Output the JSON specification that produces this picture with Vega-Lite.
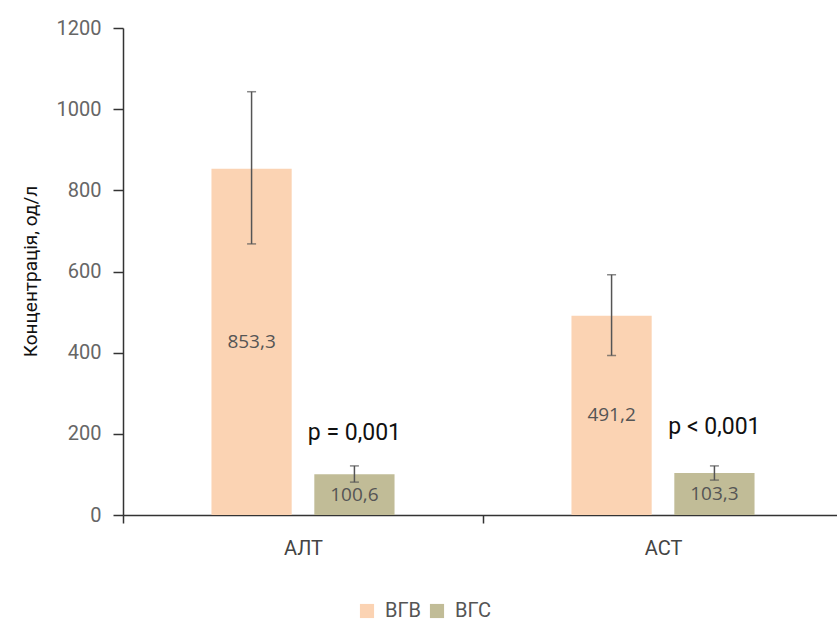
{
  "$schema": "https://vega.github.io/schema/vega-lite/v6.json",
  "width": 714,
  "height": 487,
  "autosize": "none",
  "padding": {"left": 123, "top": 28, "right": 0, "bottom": 111},
  "background": "white",
  "config": {
    "view": {"stroke": null},
    "font": "Roboto, sans-serif"
  },
  "datasets": {
    "bars": [
      {"test": "АЛТ", "group": "ВГВ", "value": 853.3, "lo": 668, "hi": 1043, "label": "853,3"},
      {"test": "АЛТ", "group": "ВГС", "value": 100.6, "lo": 81, "hi": 121, "label": "100,6"},
      {"test": "АСТ", "group": "ВГВ", "value": 491.2, "lo": 393, "hi": 592, "label": "491,2"},
      {"test": "АСТ", "group": "ВГС", "value": 103.3, "lo": 86, "hi": 121, "label": "103,3"}
    ],
    "pvals": [
      {"test": "АЛТ", "group": "ВГС", "y": 202, "text": "p = 0,001"},
      {"test": "АСТ", "group": "ВГС", "y": 217, "text": "p < 0,001"}
    ]
  },
  "data": {"name": "bars"},
  "encoding": {
    "x": {
      "field": "test", "type": "nominal", "sort": ["АЛТ", "АСТ"],
      "scale": {"paddingInner": 0, "paddingOuter": 0, "range": [0, 720]},
      "axis": {
        "title": null, "labelAngle": 0, "tickBand": "extent",
        "domainColor": "#333", "domainWidth": 1.5, "tickColor": "#333", "tickWidth": 1.5, "tickSize": 8,
        "labelFontSize": 20, "labelColor": "#444", "labelPadding": 15,
        "labelFont": "Roboto, sans-serif"
      }
    },
    "xOffset": {
      "field": "group", "type": "nominal", "sort": ["ВГВ", "ВГС"],
      "scale": {"paddingInner": 0.22, "paddingOuter": 0.86}
    }
  },
  "layer": [
    {
      "mark": {"type": "bar"},
      "encoding": {
        "y": {
          "field": "value", "type": "quantitative",
          "scale": {"domain": [0, 1200], "nice": false},
          "axis": {
            "title": "Концентрація, од/л", "values": [0, 200, 400, 600, 800, 1000, 1200], "format": "d",
            "grid": false, "domainColor": "#333", "domainWidth": 1.5, "tickColor": "#333", "tickWidth": 1.5,
            "tickSize": 10, "labelPadding": 12, "labelFontSize": 20, "labelColor": "#666",
            "labelFont": "Roboto, sans-serif",
            "titleFont": "Roboto, sans-serif", "titleFontSize": 19,
            "titleFontWeight": "normal", "titleColor": "#111",
            "titleX": -93, "titleY": 243, "titleAlign": "center", "titleBaseline": "middle", "titleAngle": -90
          }
        },
        "color": {
          "field": "group", "type": "nominal", "sort": ["ВГВ", "ВГС"],
          "scale": {"domain": ["ВГВ", "ВГС"], "range": ["#FBD3B3", "#C1BC97"]},
          "legend": {
            "title": null, "orient": "none", "direction": "horizontal", "legendX": 234, "legendY": 573,
            "symbolType": "square", "symbolSize": 200, "symbolStrokeWidth": 0, "labelFontSize": 20,
            "labelColor": "#555", "labelFont": "Roboto, sans-serif",
            "columnPadding": 5, "labelOffset": 8
          }
        }
      }
    },
    {
      "mark": {"type": "rule", "color": "#555", "strokeWidth": 1.5},
      "encoding": {"y": {"field": "lo", "type": "quantitative"}, "y2": {"field": "hi"}}
    },
    {
      "mark": {"type": "tick", "color": "#555", "thickness": 1.5, "size": 9},
      "encoding": {"y": {"field": "hi", "type": "quantitative"}}
    },
    {
      "mark": {"type": "tick", "color": "#555", "thickness": 1.5, "size": 9},
      "encoding": {"y": {"field": "lo", "type": "quantitative"}}
    },
    {
      "transform": [{"calculate": "datum.value / 2", "as": "mid"}],
      "mark": {"type": "text", "fontSize": 19, "color": "#555", "font": "Open Sans, sans-serif", "baseline": "middle"},
      "encoding": {"y": {"field": "mid", "type": "quantitative"}, "text": {"field": "label"}}
    },
    {
      "data": {"name": "pvals"},
      "mark": {"type": "text", "fontSize": 23, "color": "#111", "baseline": "middle", "font": "Roboto, sans-serif"},
      "encoding": {"y": {"field": "y", "type": "quantitative"}, "text": {"field": "text"}}
    }
  ]
}
